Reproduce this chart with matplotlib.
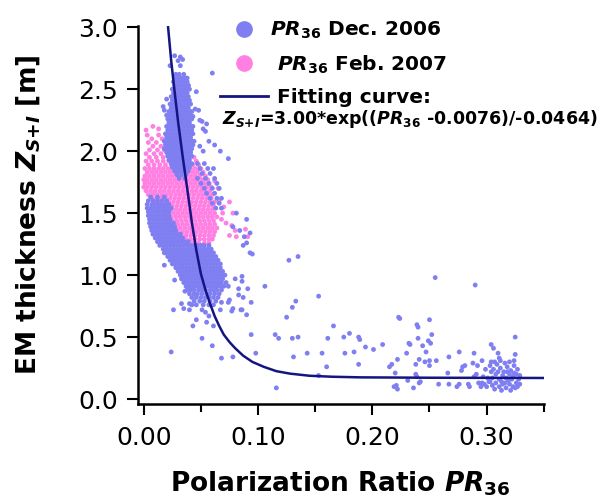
import numpy as np
import matplotlib
matplotlib.use("Agg")
from matplotlib import pyplot as plt
from matplotlib.lines import Line2D

plt.rcParams['font.family'] = ['DejaVu Sans']
plt.rcParams['mathtext.fontset'] = 'custom'
plt.rcParams['mathtext.it'] = 'DejaVu Sans:italic:bold'
plt.rcParams['mathtext.rm'] = 'DejaVu Sans:bold'
plt.rcParams['mathtext.bf'] = 'DejaVu Sans:bold'

# PR36 in units of 0.001, Z_S+I in units of 0.01 m
# rows: (y, [x, x, ...]) for the dense parts of the clouds
dec_upper_rows = [
    (262, [28, 31, 35]), (259, [27, 30, 33, 36, 38]), (256, [26, 29, 32, 35, 38]),
    (253, [27, 30, 33, 36, 39]), (250, [25, 28, 31, 34, 37, 40]), (247, [26, 29, 32, 35, 38]),
    (244, [24, 27, 30, 33, 36, 39]), (241, [25, 28, 31, 34, 37, 40]),
    (238, [23, 26, 29, 32, 35, 38, 41]), (235, [24, 27, 30, 33, 36, 39]),
    (232, [22, 25, 28, 31, 34, 37, 40, 42]), (229, [23, 26, 29, 32, 35, 38, 41]),
    (226, [21, 24, 27, 30, 33, 36, 39, 42]), (223, [22, 25, 28, 31, 34, 37, 40]),
    (220, [20, 23, 26, 29, 32, 35, 38, 41, 43]), (217, [21, 24, 27, 30, 33, 36, 39, 42]),
    (214, [19, 22, 25, 28, 31, 34, 37, 40, 43]), (211, [20, 23, 26, 29, 32, 35, 38, 41]),
    (208, [18, 21, 24, 27, 30, 33, 36, 39, 42, 44]), (205, [19, 22, 25, 28, 31, 34, 37, 40, 43]),
    (202, [18, 21, 24, 27, 30, 33, 36, 39, 42]), (199, [20, 23, 26, 29, 32, 35, 38, 41]),
    (196, [21, 24, 27, 30, 33, 36, 39, 42]), (193, [22, 25, 28, 31, 34, 37, 40]),
    (190, [24, 27, 30, 33, 36, 39, 42]), (187, [25, 28, 31, 34, 37, 40]),
    (184, [27, 30, 33, 36, 39]), (181, [29, 33, 37]), (178, [31, 36]),
]
dec_streak_rows = [
    (190, [47, 53]), (186, [49, 56, 61]), (182, [51, 58]), (178, [47, 54, 62]),
    (174, [50, 57, 64]), (170, [53, 60, 66]), (166, [55, 62]), (162, [58, 64, 68]),
    (158, [60, 66]), (154, [63, 68]),
]
dec_lobe_rows = [
    (163, [6, 12, 18]), (160, [4, 8, 12, 16, 20]), (157, [3, 7, 10, 13, 16, 19, 22]),
    (154, [3, 6, 9, 12, 15, 18, 21, 24]), (151, [4, 7, 10, 13, 16, 19, 22]),
    (148, [4, 7, 10, 13, 16, 19, 22]), (145, [5, 8, 11, 14, 17, 20, 23]),
    (142, [5, 8, 11, 14, 17, 20, 23, 26]), (139, [6, 9, 12, 15, 18, 21, 24, 27]),
    (136, [7, 10, 13, 16, 19, 22, 25, 28]), (133, [8, 11, 14, 17, 20, 23, 26, 29, 32]),
]
dec_lower_rows = [
    (130, [10, 13, 16, 19, 22, 25, 28, 31, 34]),
    (127, [12, 15, 18, 21, 24, 27, 30, 33, 36, 39]),
    (124, [14, 17, 20, 23, 26, 29, 32, 35, 38, 41, 44, 47, 50, 53, 57]),
    (121, [17, 20, 23, 26, 29, 32, 35, 38, 41, 44, 47, 50, 53, 56, 59]),
    (118, [19, 22, 25, 28, 31, 34, 37, 40, 43, 46, 49, 52, 55, 58, 61]),
    (115, [21, 24, 27, 30, 33, 36, 39, 42, 45, 48, 51, 54, 57, 60, 63]),
    (112, [23, 26, 29, 32, 35, 38, 41, 44, 47, 50, 53, 56, 59, 62, 65]),
    (109, [25, 28, 31, 34, 37, 40, 43, 46, 49, 52, 55, 58, 61, 64, 67]),
    (106, [28, 31, 34, 37, 40, 43, 46, 49, 52, 55, 58, 61, 64, 67]),
    (103, [30, 33, 36, 39, 42, 45, 48, 51, 54, 57, 60, 63, 66, 69]),
    (100, [32, 35, 38, 41, 44, 47, 50, 53, 56, 59, 62, 65, 68, 71]),
    (97, [33, 36, 39, 42, 45, 48, 51, 54, 57, 60, 63, 66, 69]),
    (94, [35, 38, 41, 44, 47, 50, 53, 56, 59, 62, 65, 68, 72]),
    (91, [37, 40, 43, 46, 49, 52, 55, 58, 61, 64, 67, 70]),
    (88, [38, 41, 44, 48, 51, 54, 58, 61, 64, 68]),
    (85, [40, 44, 47, 51, 55, 58, 62, 66]),
    (82, [42, 46, 50, 54, 57, 61, 65]),
    (79, [44, 49, 53, 58, 63]),
    (76, [46, 52, 57, 61]),
]
# single Dec. 2006 points as x, y pairs
dec_scatter = [
    23, 269, 27, 277, 32, 276, 34, 274, 30, 273, 32, 269, 60, 263, 46, 248, 39, 253,
    51, 224, 55, 222, 52, 218, 43, 228, 48, 233, 17, 236, 18, 233, 20, 242, 45, 234,
    20, 229, 49, 225, 67, 200, 74, 194, 49, 204, 52, 200, 54, 216, 57, 208, 62, 205,
    81, 150, 90, 145, 84, 136, 93, 134, 78, 139, 88, 131, 87, 124, 90, 126, 95, 117,
    127, 112, 135, 115, 86, 99, 86, 95, 106, 91, 91, 89, 87, 82, 94, 78, 86, 72, 90, 68,
    18, 118, 18, 108, 27, 96, 93, 118, 80, 97, 83, 89, 83, 84, 74, 91, 75, 80, 78, 73,
    36, 87, 33, 77, 40, 77, 26, 72, 24, 38, 35, 73, 40, 72, 42, 76, 51, 72, 54, 70,
    57, 67, 46, 64, 43, 59, 55, 62, 61, 59, 51, 49, 60, 43, 68, 33, 78, 34, 68, 78,
    74, 78, 77, 71, 85, 72, 67, 72, 94, 52, 98, 37, 115, 52, 118, 49, 125, 66, 130, 74,
    133, 79, 130, 49, 131, 34, 116, 9, 153, 83, 166, 59, 135, 50, 161, 49, 175, 50,
    180, 53, 188, 50, 189, 48, 194, 42, 201, 40, 209, 44, 223, 66, 143, 37, 156, 37,
    176, 37, 184, 38, 160, 26, 188, 28, 153, 19, 215, 26, 217, 28, 220, 21, 222, 32,
    219, 10, 222, 8, 255, 98, 290, 92, 224, 65, 250, 64, 239, 60, 240, 58, 252, 52,
    240, 49, 232, 45, 233, 44, 249, 47, 251, 45, 244, 43, 247, 38, 230, 37, 241, 32,
    246, 30, 250, 31, 250, 27, 256, 31, 238, 28, 267, 34, 276, 38, 289, 37, 304, 44,
    306, 41, 310, 37, 311, 33, 325, 50, 325, 36, 324, 31, 279, 26, 281, 27, 278, 23,
    288, 29, 292, 27, 296, 31, 304, 30, 266, 21, 238, 20, 239, 18, 221, 11, 231, 15,
    236, 9, 242, 14, 241, 13, 258, 12, 267, 12, 274, 10, 276, 12, 284, 12, 285, 10,
    289, 18, 291, 20, 293, 13, 295, 10, 298, 12, 301, 17, 303, 14,
    303, 27, 306, 24, 309, 28, 312, 25, 315, 22, 318, 26, 321, 23, 324, 27, 327, 24,
    326, 20, 323, 18, 320, 20, 317, 17, 314, 19, 311, 16, 308, 20, 305, 17, 302, 14,
    305, 11, 308, 13, 311, 10, 314, 12, 317, 9, 320, 12, 323, 10, 326, 13, 328, 16,
    325, 9, 319, 15, 313, 14, 316, 13, 310, 22, 322, 16, 329, 19, 316, 29, 312, 31,
    320, 30, 318, 22, 307, 8, 300, 10, 297, 18, 299, 24, 313, 7, 321, 7, 327, 10,
    329, 12, 304, 22, 307, 30, 324, 21, 296, 13,
]
feb_rows = [
    (213, [3, 13]), (210, [7, 16, 24]), (207, [4, 11, 19, 27]), (204, [8, 15, 22, 30]),
    (201, [5, 12, 18, 25, 31]), (198, [2, 9, 15, 21, 27, 33]),
    (195, [5, 11, 17, 23, 29, 35, 44]), (192, [2, 7, 12, 17, 22, 27, 32, 37, 46]),
    (189, [4, 9, 14, 19, 24, 29, 34, 39, 43, 48]),
    (186, [1, 5, 9, 13, 17, 21, 25, 29, 33, 37, 41, 45, 50]),
    (183, [3, 7, 11, 15, 19, 23, 27, 31, 35, 39, 43, 47, 52]),
    (180, [1, 5, 9, 13, 17, 21, 25, 29, 33, 37, 41, 45, 49, 54]),
    (177, [0, 3, 7, 11, 15, 19, 23, 27, 31, 35, 39, 43, 47, 51, 56]),
    (174, [1, 5, 9, 13, 17, 21, 25, 29, 33, 37, 41, 45, 49, 53, 57]),
    (171, [0, 3, 7, 11, 15, 19, 23, 27, 31, 35, 39, 43, 47, 51, 55, 59]),
    (168, [2, 6, 10, 14, 18, 22, 26, 30, 34, 38, 42, 46, 50, 54, 58]),
    (165, [4, 8, 12, 16, 20, 24, 28, 32, 36, 40, 44, 48, 52, 56, 60]),
    (162, [7, 11, 15, 19, 23, 27, 31, 35, 39, 43, 47, 51, 55, 59]),
    (159, [10, 14, 18, 22, 26, 30, 34, 38, 42, 46, 50, 54, 58, 62]),
    (156, [13, 17, 21, 25, 29, 33, 37, 41, 45, 49, 53, 57, 61]),
    (153, [16, 20, 24, 28, 32, 36, 40, 44, 48, 52, 56, 60]),
    (150, [18, 22, 26, 30, 34, 38, 42, 46, 50, 54, 58, 62]),
    (147, [20, 24, 28, 32, 36, 40, 44, 48, 52, 56, 60, 64]),
    (144, [21, 25, 29, 33, 37, 41, 45, 49, 53, 57, 61]),
    (141, [22, 26, 30, 34, 38, 42, 46, 50, 54, 58, 62]),
    (138, [24, 28, 32, 36, 40, 44, 48, 52, 56, 60, 64]),
    (135, [26, 30, 34, 38, 42, 46, 50, 54, 58, 62]),
    (132, [29, 33, 37, 41, 45, 49, 53, 57, 61]),
    (129, [33, 37, 41, 45, 49, 53, 57, 60]),
    (126, [38, 43, 48, 53, 57]),
]
feb_scatter = [
    2, 217, 13, 218, 8, 220, 75, 159, 78, 150, 89, 137, 91, 131, 77, 140, 80, 136,
    75, 132, 81, 131, 66, 160, 70, 155, 68, 145, 72, 142, 65, 170, 62, 176, 69, 150,
]

# fitting curve
fit_x = [0.0213, 0.024, 0.027, 0.030, 0.034, 0.038, 0.042, 0.046, 0.050, 0.054, 0.058,
         0.062, 0.066, 0.070, 0.075, 0.080, 0.087, 0.095, 0.105, 0.116, 0.128, 0.145,
         0.165, 0.19, 0.25, 0.35]
fit_y = [3.00, 2.73, 2.48, 2.24, 1.96, 1.70, 1.43, 1.20, 1.01, 0.88, 0.77, 0.67, 0.59,
         0.52, 0.46, 0.41, 0.35, 0.30, 0.26, 0.225, 0.205, 0.188, 0.18, 0.175, 0.172, 0.17]

DEC_COLOR = '#7f7ff2'
FEB_COLOR = '#ff80e2'
FIT_COLOR = '#141482'


def rows_to_xy(rows):
    xs, ys = [], []
    for y, xl in rows:
        xs += xl
        ys += [y] * len(xl)
    return np.array(xs) / 1000.0, np.array(ys) / 100.0


def pairs_to_xy(pairs):
    a = np.array(pairs).reshape(-1, 2)
    return a[:, 0] / 1000.0, a[:, 1] / 100.0


fig = plt.figure(figsize=(6.05, 5.04), dpi=100)
ax = fig.add_axes([0.2276, 0.1984, 0.6712, 0.75])

dot = 12
fx, fy = rows_to_xy(feb_rows)
ax.scatter(fx, fy, s=dot, color=FEB_COLOR, edgecolors='none')
fx, fy = pairs_to_xy(feb_scatter)
ax.scatter(fx, fy, s=dot, color=FEB_COLOR, edgecolors='none')
for rows in (dec_upper_rows, dec_streak_rows, dec_lobe_rows, dec_lower_rows):
    dx, dy = rows_to_xy(rows)
    ax.scatter(dx, dy, s=dot, color=DEC_COLOR, edgecolors='none')
dx, dy = pairs_to_xy(dec_scatter)
ax.scatter(dx, dy, s=dot, color=DEC_COLOR, edgecolors='none')

ax.plot(fit_x, fit_y, color=FIT_COLOR, lw=1.8)

ax.set_xlim(-0.0053, 0.35)
ax.set_ylim(-0.04, 3.01)
ax.set_xticks([0.0, 0.1, 0.2, 0.3])
ax.set_xticklabels(['0.00', '0.10', '0.20', '0.30'])
ax.set_xticks([0.05, 0.15, 0.25, 0.35], minor=True)
ax.set_yticks([0.0, 0.5, 1.0, 1.5, 2.0, 2.5, 3.0])
ax.set_yticklabels(['0.0', '0.5', '1.0', '1.5', '2.0', '2.5', '3.0'])
for s in ('top', 'right'):
    ax.spines[s].set_visible(False)
for s in ('left', 'bottom'):
    ax.spines[s].set_linewidth(1.8)
ax.tick_params(axis='both', which='major', labelsize=18, width=1.5, length=8, pad=6)
ax.tick_params(axis='x', which='minor', width=1.5, length=5.5)
ax.tick_params(axis='x', which='major', pad=8)

ax.set_xlabel(r'Polarization Ratio $\mathit{PR_{36}}$', fontsize=19, fontweight='bold', labelpad=14)
ax.set_ylabel(r'EM thickness $\mathit{Z_{S{+}I}}$ [m]', fontsize=19, fontweight='bold', labelpad=26)

handles = [
    Line2D([], [], marker='o', linestyle='none', color=DEC_COLOR, markersize=11),
    Line2D([], [], marker='o', linestyle='none', color=FEB_COLOR, markersize=11),
    Line2D([], [], color=FIT_COLOR, lw=2),
]
labels = [r'$\mathit{PR_{36}}$ Dec. 2006', r' $\mathit{PR_{36}}$ Feb. 2007', ' Fitting curve:']
ax.legend(handles, labels, loc='upper left', bbox_to_anchor=(0.2027, 1.017), frameon=False,
          borderpad=0, borderaxespad=0, handlelength=2.4, handletextpad=0.1,
          labelspacing=0.62, prop={'size': 14.5, 'weight': 'bold'})
ax.text(0.2076, 0.755, r'$\mathit{Z_{S{+}I}}$=3.00*exp(($\mathit{PR_{36}}$ -0.0076)/-0.0464)',
        transform=ax.transAxes, fontsize=12.5, fontweight='bold', va='center', ha='left')

fig.savefig('out.png', dpi=100)
